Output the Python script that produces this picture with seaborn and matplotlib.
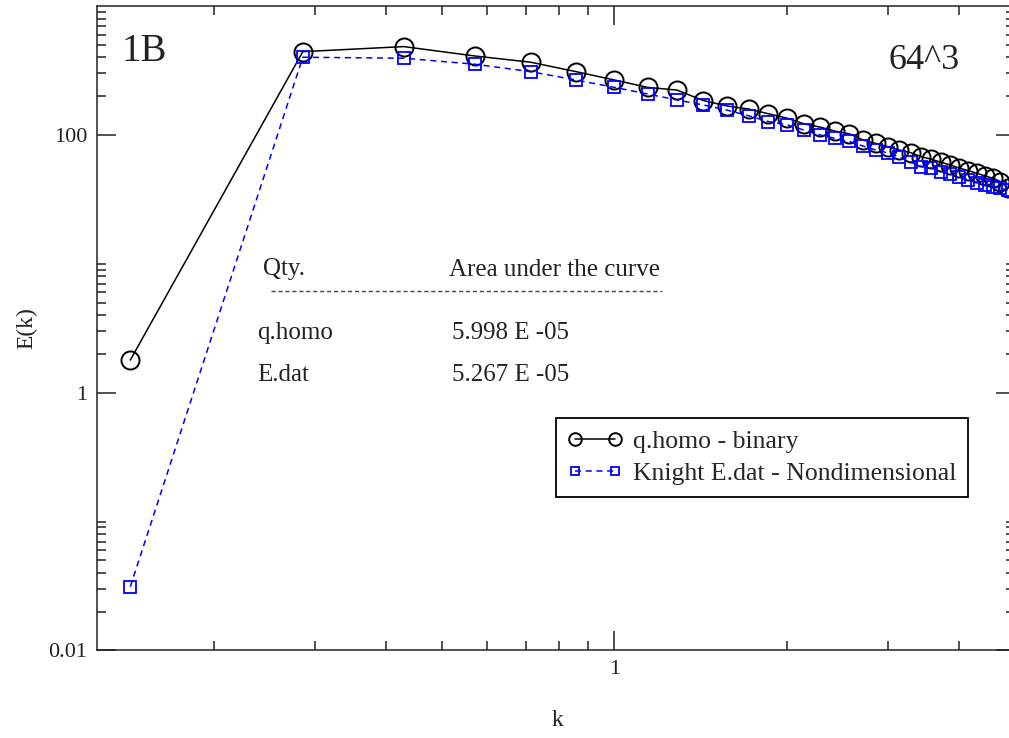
import matplotlib
matplotlib.use("Agg")
import matplotlib.pyplot as plt
from matplotlib.ticker import FixedLocator, FixedFormatter, NullFormatter
from matplotlib.lines import Line2D
import seaborn as sns

# Wavenumbers of the shells
k = [0.143, 0.286, 0.429, 0.571, 0.714, 0.857, 1.000, 1.143, 1.286, 1.429,
     1.571, 1.714, 1.857, 2.000, 2.143, 2.286, 2.429, 2.571, 2.714, 2.857,
     3.000, 3.143, 3.286, 3.429, 3.571, 3.714, 3.857, 4.000, 4.143, 4.286,
     4.429, 4.571, 4.714, 4.857]

# Energy spectrum from the binary q.homo output
E_qhomo = [1.79, 443, 485, 410, 367, 310, 267, 234, 223, 185,
           168, 159, 146, 135, 122, 115, 107, 102, 91.5, 86,
           81.1, 76.4, 72.9, 67.9, 64.8, 61.4, 58.5, 55.2, 52.9, 50.5,
           48.1, 46.2, 43.5, 38.6]

# Energy spectrum from Knight's nondimensional E.dat
E_knight = [0.0312, 401, 394, 354, 310, 267, 234, 208, 187, 171,
            156, 141, 127, 120, 109, 100, 94, 89, 82, 76.5,
            72.5, 67.5, 62.1, 56.8, 55.5, 51.9, 49.8, 47, 44.8, 42.7,
            41, 39.5, 38.6, 37.4]

series_labels = ["q.homo - binary", "Knight E.dat - Nondimensional"]

x_major = [1]
x_major_labels = ["1"]
x_minor = [0.2, 0.3, 0.4, 0.5, 0.6, 0.7, 0.8, 0.9, 2, 3, 4]
y_major = [0.01, 1, 100]
y_major_labels = ["0.01", "1", "100"]
y_minor = [0.02, 0.03, 0.04, 0.05, 0.06, 0.07, 0.08, 0.09, 0.1,
           2, 3, 4, 5, 6, 7, 8, 9, 10,
           200, 300, 400, 500, 600, 700, 800, 900]

table_header = ["Qty.", "Area under the curve"]
table_names = ["q.homo", "E.dat"]
table_areas = ["5.998 E -05", "5.267 E -05"]

sns.set_theme(style="ticks")
plt.rcParams["font.family"] = ["Liberation Serif", "DejaVu Serif"]

W, H = 1009, 738
INK = "#222222"
fig = plt.figure(figsize=(W / 100, H / 100), dpi=100)
ax = fig.add_axes([96.8 / W, (H - 650.4) / H, 918.2 / W, 644.3 / H])
ax.set_xscale("log")
ax.set_yscale("log")

sns.lineplot(x=k, y=E_qhomo, ax=ax, sort=False, estimator=None,
             color="black", linewidth=1.1, marker="o", markersize=13,
             markerfacecolor="none", markeredgecolor="black",
             markeredgewidth=1.4, label=series_labels[0])
sns.lineplot(x=k, y=E_knight, ax=ax, sort=False, estimator=None,
             color="#0000ff", linewidth=1.1, marker="s", markersize=8.6,
             markerfacecolor="none", markeredgecolor="#0000ff",
             markeredgewidth=1.3, label=series_labels[1])
ax.lines[1].set_linestyle((0, (4, 3)))

ax.set_xlim(0.125, 5)
ax.set_ylim(0.01, 1000)

ax.xaxis.set_major_locator(FixedLocator(x_major))
ax.xaxis.set_major_formatter(FixedFormatter(x_major_labels))
ax.xaxis.set_minor_locator(FixedLocator(x_minor))
ax.xaxis.set_minor_formatter(NullFormatter())
ax.yaxis.set_major_locator(FixedLocator(y_major))
ax.yaxis.set_major_formatter(FixedFormatter(y_major_labels))
ax.yaxis.set_minor_locator(FixedLocator(y_minor))
ax.yaxis.set_minor_formatter(NullFormatter())

ax.tick_params(which="both", direction="in", top=True, right=True,
               width=1.1, color=INK, labelsize=16, labelcolor=INK)
ax.tick_params(which="major", length=13.5, pad=7)
ax.tick_params(which="minor", length=6.7)
for sp in ax.spines.values():
    sp.set_linewidth(1.1)
    sp.set_color(INK)

ax.set_xlabel("k", fontsize=17, color=INK)
ax.set_ylabel("E(k)", fontsize=17, color=INK, labelpad=8)
ax.xaxis.set_label_coords(0.502, -0.092)

leg = ax.legend(loc="upper left", bbox_to_anchor=(556 / W, 1 - 418 / H),
                bbox_transform=fig.transFigure, frameon=True, fancybox=False,
                edgecolor="black", framealpha=1, fontsize=18.5, numpoints=2,
                handlelength=2.15, markerscale=0.7, borderpad=0.45,
                labelspacing=0.38, handletextpad=0.4, borderaxespad=0)
leg.get_frame().set_linewidth(1.3)


def px(x, y):
    return x / W, 1 - y / H


fig.text(*px(122, 61), "1B", fontsize=28, color=INK, va="baseline")
fig.text(*px(888, 69), "64^3", fontsize=26, color=INK, va="baseline")
fig.text(*px(263, 275), table_header[0], fontsize=18, color=INK, va="baseline")
fig.text(*px(449, 276), table_header[1], fontsize=18, color=INK, va="baseline")
fig.add_artist(Line2D([271 / W, 662 / W], [1 - 290.5 / H, 1 - 290.5 / H],
                      transform=fig.transFigure, color="#444444",
                      linewidth=1.0, linestyle=(0, (3, 2))))
for i, (name, area) in enumerate(zip(table_names, table_areas)):
    yb = [339, 381][i]
    fig.text(*px(257, yb), name, fontsize=18, color=INK, va="baseline")
    fig.text(*px(452, yb), area, fontsize=18, color=INK, va="baseline")

fig.savefig("out.png", dpi=100)
